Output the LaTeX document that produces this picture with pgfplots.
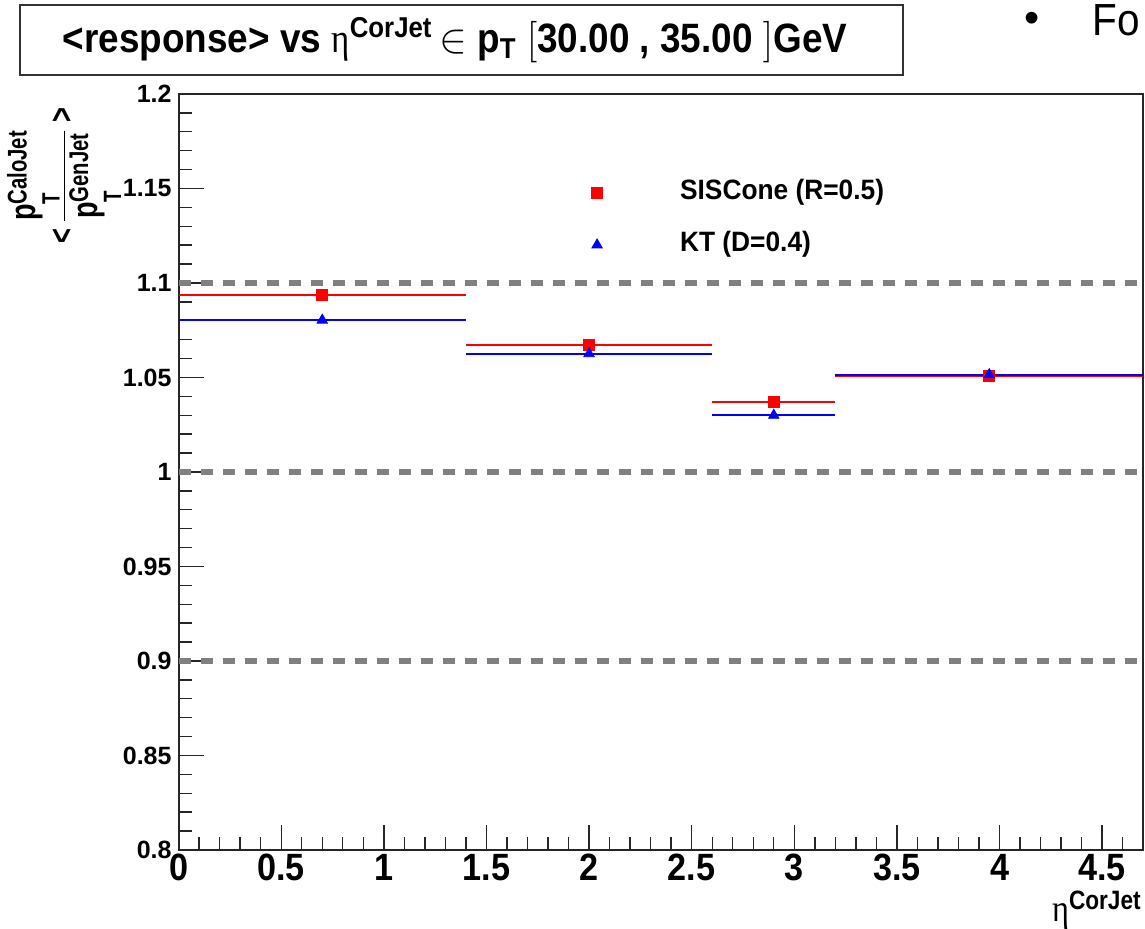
\documentclass[border=0pt]{standalone}
\usepackage{fontspec}
\setmainfont{Liberation Sans}
\newfontfamily\serfont{Liberation Serif}
\newfontfamily\nf[FakeStretch=0.9]{Liberation Sans}
\newfontfamily\lf[FakeStretch=0.94]{Liberation Sans}
\newfontfamily\nnf[FakeStretch=0.85]{Liberation Sans}
\newfontfamily\yf[FakeStretch=0.75]{Liberation Sans}
\newfontfamily\nserfont[FakeStretch=0.85]{Liberation Serif}
\usepackage{amsmath}
\usepackage{pgfplots}
\pgfplotsset{compat=1.18}
\definecolor{dashgray}{RGB}{128,128,128}
\newcommand\ptlab[1]{\mbox{\fontsize{18}{20}\selectfont p\rlap{\raisebox{-12pt}{\fontsize{12.5}{13}\selectfont T}}\raisebox{4.5pt}{\fontsize{13.5}{14}\selectfont #1}}}
\begin{document}
\begin{tikzpicture}
\useasboundingbox (0,0) rectangle (572.5pt,464.5pt);
\begin{axis}[
  at={(89.3pt,39.5pt)}, anchor=south west,
  scale only axis, width=482.3pt, height=378pt,
  xmin=0, xmax=4.7, ymin=0.8, ymax=1.2,
  xtick={0,0.5,1,1.5,2,2.5,3,3.5,4,4.5},
  ytick={0.8,0.85,0.9,0.95,1,1.05,1.1,1.15,1.2},
  minor xtick={0.1,0.2,...,4.65},
  minor ytick={0.81,0.82,...,1.195},
  tick pos=left, tick align=inside,
  major tick length=12.5pt, minor tick length=6.5pt,
  axis line style={line width=1pt, black!85},
  tick style={line width=0.7pt, black!85},
  /pgf/number format/assume math mode=true,
  xticklabel style={font=\fontsize{19}{21}\selectfont\nf\bfseries, inner sep=2pt},
  yticklabel style={font=\fontsize{12.5}{14}\selectfont\bfseries},
  legend style={draw=none, fill=none, at={(0.4214,0.8347)}, anchor=west,
    inner sep=0pt, outer sep=0pt, row sep=13pt, column sep=0pt,
    nodes={inner sep=0pt, text height=10pt, text depth=3pt},
    font=\fontsize{14}{16}\selectfont\lf\bfseries},
  legend cell align=left,
  legend image code/.code={\path[draw=none,fill=none] (-6pt,0pt) -- (41.5pt,0pt); \draw[#1] plot coordinates {(0pt,0pt)};},
]
\addplot[dashgray, line width=3pt, dash pattern=on 6pt off 5pt, forget plot] coordinates {(0,1.1) (4.7,1.1)};
\addplot[dashgray, line width=3pt, dash pattern=on 6pt off 5pt, forget plot] coordinates {(0,1.0) (4.7,1.0)};
\addplot[dashgray, line width=3pt, dash pattern=on 6pt off 5pt, forget plot] coordinates {(0,0.9) (4.7,0.9)};

\addplot[red, only marks, mark=square*, mark size=2.8pt,
  error bars/.cd, x dir=both, x explicit, error mark=none,
  error bar style={red, line width=1pt}]
  coordinates {
  (0.7,1.0935) +- (0.7,0)
  (2.0,1.0674) +- (0.6,0)
  (2.9,1.0370) +- (0.3,0)
  (3.95,1.0510) +- (0.75,0)
  };
\addlegendentry{SISCone (R=0.5)}
\addplot[blue, only marks, mark=triangle*, mark size=3pt,
  error bars/.cd, x dir=both, x explicit, error mark=none,
  error bar style={blue, line width=1pt}]
  coordinates {
  (0.7,1.0803) +- (0.7,0)
  (2.0,1.0626) +- (0.6,0)
  (2.9,1.0300) +- (0.3,0)
  (3.95,1.0515) +- (0.75,0)
  };
\addlegendentry{KT (D=0.4)}
\end{axis}
\begin{scope}[x=0.5pt, y=-0.5pt, shift={(0pt,464.5pt)}]
  \draw[line width=1pt, black!80] (20,5) rectangle (903,75);
  \node[anchor=center, inner sep=0pt] at (455,40) {\fontsize{20.5}{24}\selectfont\nf\bfseries
    <response> vs {\mdseries\nserfont η}$^{\text{CorJet}}$\,$\in$ p$_{\text{T}}$ $[$30.00 , 35.00 $]$GeV};
  \node[anchor=center, inner sep=0pt] at (1032,22) {\fontsize{21.6}{24}\selectfont •};
  \node[anchor=base west, inner sep=0pt] at (1092,36) {\fontsize{22.5}{24}\selectfont\nf Fo};
  \node[rotate=90, anchor=center, inner sep=0pt] at (64,176) {\fontsize{17}{19}\selectfont\yf\bfseries
    $\text{<}\,\dfrac{\ptlab{CaloJet}}{\ptlab{GenJet}}\,\text{>}$};
  \node[anchor=base east, inner sep=0pt] at (1142,922) {\fontsize{19}{22}\selectfont\nnf\bfseries
    {\mdseries\nserfont η}$^{\text{CorJet}}$};
\end{scope}
\end{tikzpicture}
\end{document}
